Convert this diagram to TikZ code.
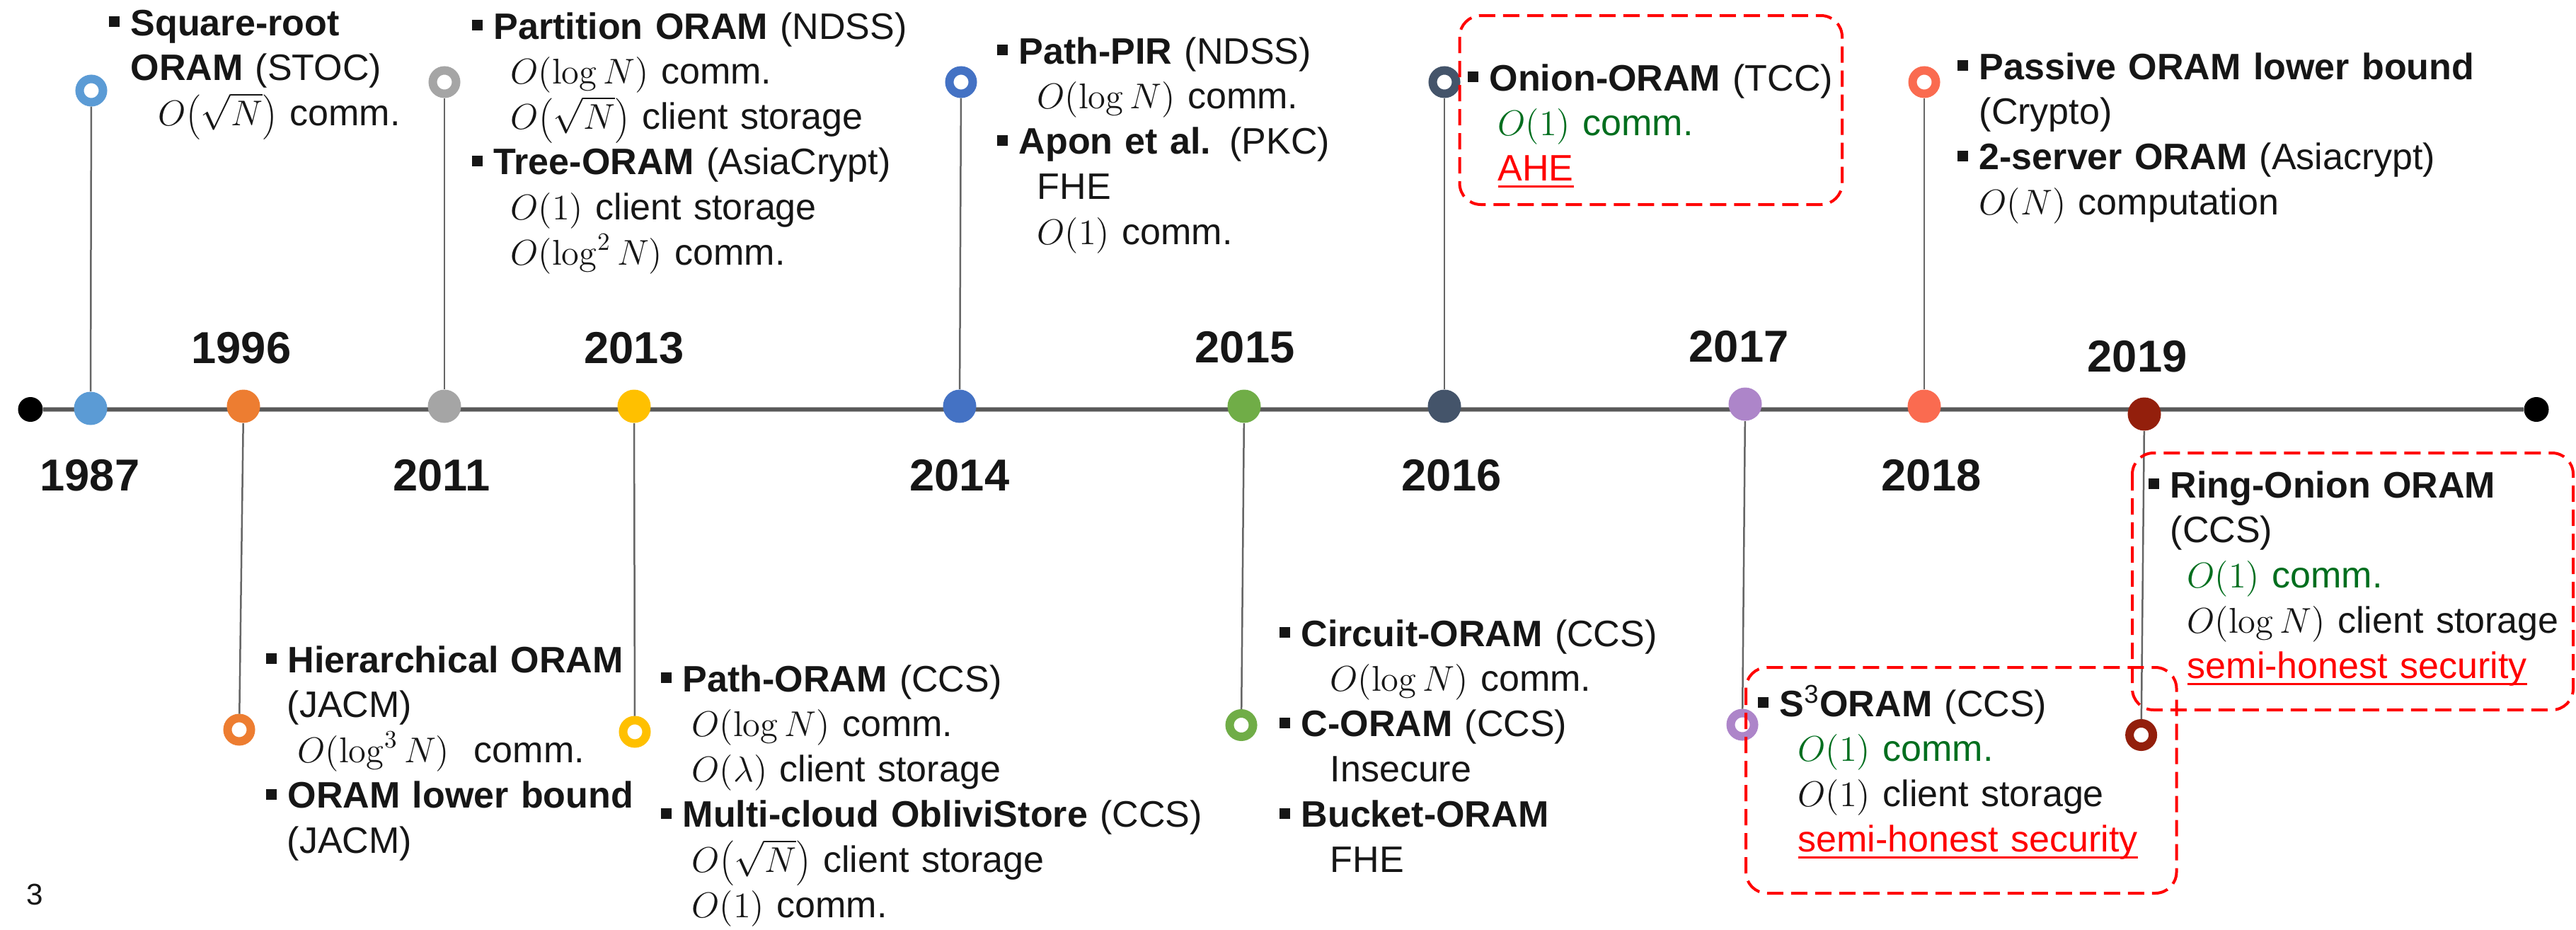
\documentclass[tikz,border=0pt]{standalone}
\usepackage[no-math]{fontspec}
\setmainfont{Liberation Sans}
\usetikzlibrary{positioning}

\definecolor{ink}{HTML}{161616}
\definecolor{okgreen}{HTML}{006E1E}
\definecolor{stemgray}{HTML}{666666}
\definecolor{axisdark}{HTML}{595959}
\definecolor{axislight}{HTML}{A6A6A6}
\definecolor{c87}{HTML}{5B9BD5}
\definecolor{c96}{HTML}{ED7D31}
\definecolor{c11}{HTML}{A5A5A5}
\definecolor{c13}{HTML}{FFC000}
\definecolor{c14}{HTML}{4472C4}
\definecolor{c15}{HTML}{70AD47}
\definecolor{c16}{HTML}{44546A}
\definecolor{c17}{HTML}{AD85C9}
\definecolor{c18}{HTML}{FA6B50}
\definecolor{c19}{HTML}{931F0C}

\newcommand{\txtfont}{\fontsize{14.8}{18.2}\selectfont}
\newcommand{\yearfont}{\fontsize{18}{20}\selectfont\bfseries}
\newcommand{\bul}{\makebox[0.31cm][l]{\rule[0.23em]{0.3em}{0.29em}}}
\newcommand{\redul}[1]{\setbox0=\hbox{#1}\rlap{\rule[-0.17em]{\wd0}{0.06em}}\box0}
\newcommand{\sqN}{O{\left(\sqrt{N}\right)}}

\begin{document}
\begin{tikzpicture}[x=1cm, y=-1cm,
  yeardot/.style={circle, fill=#1, minimum size=0.47cm, inner sep=0pt},
  evring/.style={circle, draw=#1, fill=white, line width=0.12cm, minimum size=0.33cm, inner sep=0pt},
  enddot/.style={circle, fill=black, minimum size=0.35cm, inner sep=0pt},
  stem/.style={draw=stemgray, line width=0.025cm},
  year/.style={font=\yearfont, text=ink, inner sep=0pt},
  entry/.style={anchor=base west, inner sep=0pt, text width=#1, align=left, font=\txtfont, text=ink},
  hibox/.style={draw=red, line width=0.04cm, rounded corners=0.3cm, dash pattern=on 0.23cm off 0.11cm}]

\useasboundingbox (0,0) rectangle (36.4,13.13);

%% axis
\node (start) [enddot] at (0.43,5.785) {};
\node (stop) [enddot] at (35.84,5.785) {};
\draw [line width=0.07cm, draw=axislight] (start) -- (stop);
\draw [line width=0.045cm, draw=axisdark] (start) -- (stop);

%% year dots
\node (d87) [yeardot=c87] at (1.28,5.77) {};
\node (d96) [yeardot=c96] at (3.44,5.74) {};
\node (d11) [yeardot=c11] at (6.28,5.74) {};
\node (d13) [yeardot=c13] at (8.96,5.74) {};
\node (d14) [yeardot=c14] at (13.56,5.74) {};
\node (d15) [yeardot=c15] at (17.58,5.74) {};
\node (d16) [yeardot=c16] at (20.41,5.74) {};
\node (d17) [yeardot=c17] at (24.66,5.71) {};
\node (d18) [yeardot=c18] at (27.19,5.74) {};
\node (d19) [yeardot=c19] at (30.30,5.85) {};

%% years
\node (y87) [year] at (1.27,6.72) {1987};
\node (y96) [year] at (3.41,4.92) {1996};
\node (y11) [year] at (6.24,6.72) {2011};
\node (y13) [year] at (8.96,4.92) {2013};
\node (y14) [year] at (13.56,6.72) {2014};
\node (y15) [year] at (17.59,4.91) {2015};
\node (y16) [year] at (20.51,6.72) {2016};
\node (y17) [year] at (24.57,4.90) {2017};
\node (y18) [year] at (27.29,6.72) {2018};
\node (y19) [year] at (30.20,5.04) {2019};

%% rings and stems
\node (r87) [evring=c87] at (1.29,1.28) {};
\node (r96) [evring=c96] at (3.38,10.31) {};
\node (r11) [evring=c11] at (6.28,1.16) {};
\node (r13) [evring=c13] at (8.97,10.34) {};
\node (r14) [evring=c14] at (13.58,1.16) {};
\node (r15) [evring=c15] at (17.54,10.245) {};
\node (r16) [evring=c16] at (20.41,1.16) {};
\node (r17) [evring=c17] at (24.62,10.24) {};
\node (r18) [evring=c18] at (27.19,1.16) {};
\node (r19) [evring=c19] at (30.256,10.385) {};
\foreach \e in {87,96,11,13,14,15,16,17,18,19}
  \draw [stem] (r\e) -- (d\e);

%% entries above the axis
\node (b87) [entry=4.4cm] at (1.53,0.50) {\bul\textbf{Square-root}\\
  \hspace*{0.31cm}\textbf{ORAM} (STOC)\\
  \hspace*{0.70cm}$\sqN$ comm.};
\node (b11) [entry=6.9cm] at (6.66,0.55) {\bul\textbf{Partition ORAM} (NDSS)\\
  \hspace*{0.55cm}$O(\log N)$ comm.\\
  \hspace*{0.55cm}$\sqN$ client storage\\
  \bul\textbf{Tree-ORAM} (AsiaCrypt)\\
  \hspace*{0.55cm}$O(1)$ client storage\\
  \hspace*{0.55cm}$O(\log^2 N)$ comm.};
\node (b14) [entry=5.1cm] at (14.08,0.90) {\bul\textbf{Path-PIR} (NDSS)\\
  \hspace*{0.57cm}$O(\log N)$ comm.\\
  \bul\textbf{Apon et al.} (PKC)\\
  \hspace*{0.57cm}FHE\\
  \hspace*{0.57cm}$O(1)$ comm.};
\node (b16) [entry=5.5cm] at (20.73,1.28) {\bul\textbf{Onion-ORAM} (TCC)\\
  \hspace*{0.43cm}\textcolor{okgreen}{$O(1)$ comm.}\\
  \hspace*{0.43cm}\textcolor{red}{\redul{AHE}}};
\node (b18) [entry=7.7cm] at (27.65,1.12) {\bul\textbf{Passive ORAM lower bound}\\
  \hspace*{0.31cm}(Crypto)\\
  \bul\textbf{2-server ORAM} (Asiacrypt)\\
  \hspace*{0.31cm}$O(N)$ computation};

%% entries below the axis
\node (b96) [entry=5.4cm] at (3.75,9.50) {\bul\textbf{Hierarchical ORAM}\\
  \hspace*{0.30cm}(JACM)\\
  \hspace*{0.45cm}$O(\log^3 N)$~~comm.\\
  \bul\textbf{ORAM lower bound}\\
  \hspace*{0.30cm}(JACM)};
\node (b13) [entry=7.9cm] at (9.33,9.77) {\bul\textbf{Path-ORAM} (CCS)\\
  \hspace*{0.44cm}$O(\log N)$ comm.\\
  \hspace*{0.44cm}$O(\lambda)$ client storage\\
  \bul\textbf{Multi-cloud ObliviStore} (CCS)\\
  \hspace*{0.44cm}$\sqN$ client storage\\
  \hspace*{0.44cm}$O(1)$ comm.};
\node (b15) [entry=5.6cm] at (18.07,9.13) {\bul\textbf{Circuit-ORAM} (CCS)\\
  \hspace*{0.72cm}$O(\log N)$ comm.\\
  \bul\textbf{C-ORAM} (CCS)\\
  \hspace*{0.72cm}Insecure\\
  \bul\textbf{Bucket-ORAM}\\
  \hspace*{0.72cm}FHE};
\node (b17) [entry=5.6cm] at (24.83,10.12) {\bul\textbf{S\textsuperscript{\mdseries 3}ORAM} (CCS)\\
  \hspace*{0.57cm}\textcolor{okgreen}{$O(1)$ comm.}\\
  \hspace*{0.57cm}$O(1)$ client storage\\
  \hspace*{0.57cm}\textcolor{red}{\redul{semi-honest security}}};
\node (b19) [entry=6cm] at (30.35,7.03) {\bul\textbf{Ring-Onion ORAM}\\
  \hspace*{0.31cm}(CCS)\\
  \hspace*{0.55cm}\textcolor{okgreen}{$O(1)$ comm.}\\
  \hspace*{0.55cm}$O(\log N)$ client storage\\
  \hspace*{0.55cm}\textcolor{red}{\redul{semi-honest security}}};

%% highlight boxes
\draw [hibox] (20.625,0.22) rectangle (26.03,2.89);
\draw [hibox] (24.67,9.43) rectangle (30.755,12.62);
\draw [hibox] (30.13,6.40) rectangle (36.36,10.03);

%% page number
\node (pg) [anchor=base, inner sep=0pt, font=\fontsize{12}{14}\selectfont, text=ink] at (0.49,12.78) {3};
\end{tikzpicture}
\end{document}
